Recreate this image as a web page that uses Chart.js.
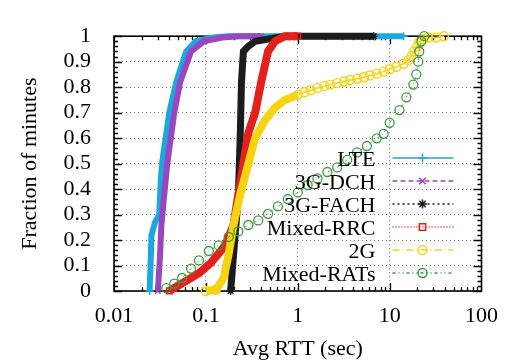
<!DOCTYPE html>
<html>
<head>
<meta charset="utf-8">
<script src="https://cdn.jsdelivr.net/npm/chart.js@4.4.0/dist/chart.umd.min.js"></script>
<style>
  html, body { margin: 0; padding: 0; background: #fff; }
</style>
</head>
<body>
<canvas id="myChart" width="510" height="362"></canvas>
<script>
// CDF of average RTT per minute
const seriesNames = ['LTE', '3G-DCH', '3G-FACH', 'Mixed-RRC', '2G', 'Mixed-RATs'];

const lteRtt  = [0.0244, 0.025, 0.0256, 0.028, 0.031, 0.0325, 0.0336, 0.040, 0.0476, 0.0609, 0.078, 0.12, 0.176, 14.2];
const lteFrac = [0, 0.10, 0.22, 0.27, 0.30, 0.45, 0.51, 0.70, 0.82, 0.94, 0.98, 0.995, 1, 1];

const dchRtt  = [0.030, 0.0315, 0.0328, 0.038, 0.0453, 0.0525, 0.069, 0.095, 0.15, 0.226, 0.40];
const dchFrac = [0, 0.12, 0.26, 0.50, 0.70, 0.82, 0.94, 0.98, 0.995, 1, 1];

const fachRtt  = [0.186, 0.200, 0.226, 0.237, 0.244, 0.256, 0.289, 0.344, 0.72, 6.7];
const fachFrac = [0, 0.14, 0.38, 0.62, 0.82, 0.94, 0.96, 0.98, 1, 1];

const rrcRtt  = [0.040, 0.061, 0.084, 0.113, 0.16, 0.20, 0.226, 0.256, 0.29, 0.344, 0.40, 0.475, 0.566, 0.72, 1.0];
const rrcFrac = [0, 0.04, 0.07, 0.11, 0.175, 0.26, 0.38, 0.50, 0.62, 0.70, 0.82, 0.94, 0.98, 1, 1];

const g2Rtt  = [0.1, 0.128, 0.156, 0.176, 0.2, 0.237, 0.29, 0.344, 0.44, 0.566, 0.72, 0.93, 1.0, 1.19, 1.38, 1.64, 1.95, 2.26, 2.69, 3.2, 3.71, 4.42, 5.25, 6.09, 7.24, 8.61, 10, 11.9, 14.2, 16, 17.3, 18.6, 20, 21, 23.2, 26.3, 32, 39];
const g2Frac = [0, 0.005, 0.05, 0.14, 0.26, 0.38, 0.50, 0.60, 0.67, 0.72, 0.75, 0.765, 0.77, 0.78, 0.788, 0.797, 0.804, 0.81, 0.816, 0.822, 0.828, 0.833, 0.839, 0.846, 0.853, 0.861, 0.87, 0.88, 0.892, 0.906, 0.922, 0.94, 0.959, 0.977, 0.989, 0.995, 0.995, 1];

const ratsRtt  = [0.0371, 0.0453, 0.0552, 0.069, 0.0841, 0.1077, 0.138, 0.177, 0.226, 0.29, 0.371, 0.475, 0.609, 0.78, 1.0, 1.28, 1.64, 2.1, 2.69, 3.45, 4.42, 5.66, 7.24, 8.61, 10, 12.8, 15.2, 18.1, 19.5, 20.5, 21, 22.1, 23.8];
const ratsFrac = [0.011, 0.029, 0.051, 0.088, 0.12, 0.157, 0.179, 0.212, 0.234, 0.259, 0.277, 0.303, 0.332, 0.361, 0.387, 0.416, 0.442, 0.467, 0.485, 0.515, 0.544, 0.569, 0.599, 0.617, 0.66, 0.71, 0.76, 0.81, 0.85, 0.9, 0.94, 0.98, 1.0];

const xTicks = [0.01, 0.1, 1, 10, 100];
const xTickLabels = ['0.01', '0.1', '1', '10', '100'];
const yTicks = [0, 0.1, 0.2, 0.3, 0.4, 0.5, 0.6, 0.7, 0.8, 0.9, 1];
const yTickLabels = ['0', '0.1', '0.2', '0.3', '0.4', '0.5', '0.6', '0.7', '0.8', '0.9', '1'];

const FONT = '"Liberation Serif", serif';

function pts(xs, ys) {
    return xs.map((x, i) => ({x: x, y: ys[i]}));
}

// markers only on the end points (gnuplot draws them sparsely)
function endMarkers(n, r) {
    return ctx => (ctx.index === 0 || ctx.index === n - 1) ? r : 0;
}

function bandSeries(label, xs, ys, color, style, width, dash, order) {
    return {
        label: label,
        data: pts(xs, ys),
        borderColor: color,
        backgroundColor: 'rgba(0,0,0,0)',
        borderWidth: width,
        pointStyle: style,
        pointRadius: endMarkers(xs.length, 4),
        pointBorderColor: color,
        pointBackgroundColor: 'rgba(0,0,0,0)',
        pointBorderWidth: 1.5,
        legendDash: dash,
        order: order,
    };
}

const datasets = [
    bandSeries(seriesNames[0], lteRtt, lteFrac, '#1ba8e0', 'cross', 6, [], 6),
    bandSeries(seriesNames[1], dchRtt, dchFrac, '#9a46bf', 'crossRot', 6, [5, 3], 5),
    bandSeries(seriesNames[2], fachRtt, fachFrac, '#1c1c1c', 'star', 7, [2, 3], 4),
    bandSeries(seriesNames[3], rrcRtt, rrcFrac, '#e3201b', 'rect', 8, [1, 2], 3),
    {
        label: seriesNames[4],
        data: pts(g2Rtt, g2Frac),
        borderColor: '#f8d312',
        backgroundColor: 'rgba(0,0,0,0)',
        borderWidth: 1.5,
        segment: {
            borderWidth: ctx => ctx.p1.parsed.x <= 1 ? 8 : 1.5,
        },
        pointStyle: 'circle',
        pointRadius: ctx => (ctx.index < 2 || ctx.raw.x >= 1) ? 4.5 : 0,
        pointBorderColor: '#f8d312',
        pointBackgroundColor: 'rgba(0,0,0,0)',
        pointBorderWidth: 1.4,
        legendDash: [7, 3, 1, 3],
        order: 2,
    },
    {
        label: seriesNames[5],
        data: pts(ratsRtt, ratsFrac),
        borderColor: '#3b9a3e',
        backgroundColor: 'rgba(0,0,0,0)',
        borderWidth: 0.8,
        borderDash: [3, 3, 1, 3],
        pointStyle: 'circle',
        pointRadius: 4.5,
        pointBorderColor: '#3b9a3e',
        pointBackgroundColor: 'rgba(0,0,0,0)',
        pointBorderWidth: 1.3,
        legendDash: [3, 3, 1, 3, 1, 3],
        order: 1,
    },
];

// border box, inside tick marks and the key
const framePlugin = {
    id: 'frame',
    beforeDatasetsDraw(chart) {
        const {ctx, chartArea: a, scales: {x, y}} = chart;
        ctx.save();
        ctx.strokeStyle = '#000';
        ctx.lineWidth = 1.3;
        ctx.beginPath();
        // log minor ticks
        for (let d = 0; d < xTicks.length - 1; d++) {
            for (let m = 1; m <= 9; m++) {
                const px = Math.round(x.getPixelForValue(xTicks[d] * m)) + 0.5;
                const len = m === 1 ? 8 : 4;
                ctx.moveTo(px, a.bottom); ctx.lineTo(px, a.bottom - len);
                ctx.moveTo(px, a.top); ctx.lineTo(px, a.top + len);
            }
        }
        for (let i = 0; i <= 50; i++) {
            const py = Math.round(y.getPixelForValue(i / 50)) + 0.5;
            const len = i % 5 === 0 ? 8 : 4;
            ctx.moveTo(a.left, py); ctx.lineTo(a.left + len, py);
            ctx.moveTo(a.right, py); ctx.lineTo(a.right - len, py);
        }
        ctx.stroke();
        ctx.lineWidth = 1.6;
        ctx.strokeRect(a.left, a.top, a.right - a.left, a.bottom - a.top);
        ctx.restore();
    },
    afterDatasetsDraw(chart) {
        const {ctx, chartArea: a} = chart;
        ctx.save();
        ctx.font = '22px ' + FONT;
        ctx.textAlign = 'right';
        ctx.textBaseline = 'alphabetic';
        chart.data.datasets.forEach((ds, i) => {
            const yy = a.bottom - 133 + i * 23;
            ctx.fillStyle = '#000';
            ctx.fillText(ds.label, a.right - 106, yy + 8);
            ctx.strokeStyle = ds.borderColor;
            ctx.lineWidth = 1.3;
            ctx.setLineDash(ds.legendDash);
            ctx.beginPath();
            ctx.moveTo(a.right - 89, yy);
            ctx.lineTo(a.right - 28, yy);
            ctx.stroke();
            ctx.setLineDash([]);
            ctx.fillStyle = 'rgba(0,0,0,0)';
            ctx.lineWidth = 1.5;
            Chart.helpers.drawPoint(ctx, {pointStyle: ds.pointStyle, radius: 4.5, borderWidth: 1.5}, a.right - 59, yy);
        });
        ctx.restore();
    }
};

new Chart('myChart', {
    type: 'scatter',
    data: {datasets: datasets},
    options: {
        responsive: false,
        animation: false,
        events: [],
        showLine: true,
        layout: {padding: {top: 17, right: 24, left: 0, bottom: 0}},
        elements: {line: {tension: 0}},
        datasets: {scatter: {clip: 6}},
        plugins: {legend: {display: false}, tooltip: {enabled: false}},
        scales: {
            x: {
                type: 'logarithmic',
                min: 0.01,
                max: 100,
                afterBuildTicks: s => { s.ticks = xTicks.map(v => ({value: v})); },
                afterFit: s => { s.height = 71; },
                grid: {color: '#777', lineWidth: 1, drawTicks: false},
                border: {display: false, dash: [1, 3]},
                ticks: {
                    autoSkip: false,
                    maxRotation: 0,
                    padding: 12,
                    color: '#000',
                    font: {family: FONT, size: 22},
                    callback: (v, i) => xTickLabels[i],
                },
                title: {
                    display: true,
                    text: 'Avg RTT (sec)',
                    color: '#000',
                    font: {family: FONT, size: 22},
                    padding: {top: 0, bottom: 0},
                },
            },
            y: {
                min: 0,
                max: 1,
                afterBuildTicks: s => { s.ticks = yTicks.map(v => ({value: v})); },
                afterFit: s => { s.width = 114; },
                grid: {color: '#777', lineWidth: 1, drawTicks: false},
                border: {display: false, dash: [1, 3]},
                ticks: {
                    autoSkip: false,
                    padding: 23,
                    color: '#000',
                    font: {family: FONT, size: 22},
                    callback: (v, i) => yTickLabels[i],
                },
                title: {
                    display: true,
                    text: 'Fraction of minutes',
                    color: '#000',
                    font: {family: FONT, size: 22},
                    padding: {top: 17, bottom: 0},
                },
            },
        },
    },
    plugins: [framePlugin],
});
</script>
</body>
</html>
